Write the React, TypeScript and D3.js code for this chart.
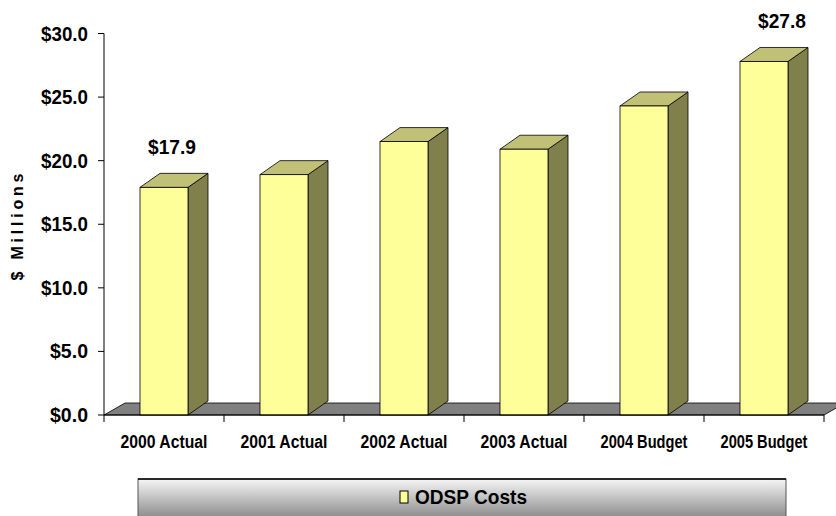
import React from 'react';
import * as d3 from 'd3';

const categories = ['2000 Actual', '2001 Actual', '2002 Actual', '2003 Actual', '2004 Budget', '2005 Budget'];
const costs = [17.9, 18.9, 21.5, 20.9, 24.3, 27.8];
const labelled = [0, 5]; // only first and last bar carry a value label
const yTicks = [0, 5, 10, 15, 20, 25, 30];

const W = 836;
const H = 516;
const left = 104;
const right = 824;
const top = 33.5;
const bottom = 415;
const depthX = 20; // 3d offset of the bars
const depthY = -14;

function App() {
  const x = d3.scaleBand().domain(categories).range([left, right]);
  const y = d3.scaleLinear().domain([0, 30]).range([bottom, top]);
  const barW = x.bandwidth() * 0.4;
  const fmt = (v: number) => '$' + d3.format('.1f')(v);

  const floor = d3.line()([
    [left, bottom],
    [right, bottom],
    [right + 21, bottom - 12],
    [left + 21, bottom - 12],
  ]) + 'Z';

  return (
    <svg width={W} height={H} style={{ position: 'absolute', left: 0, top: 0 }} fontFamily="Arial, 'Liberation Sans', sans-serif">
      <defs>
        <linearGradient id="legendGrad" x1="0" y1="0" x2="0" y2="1">
          <stop offset="0" stopColor="#f6f6f6" />
          <stop offset="1" stopColor="#7a7a7a" />
        </linearGradient>
      </defs>

      {/* floor */}
      <path d={floor} fill="#808080" stroke="#000" strokeWidth={0.8} />

      {/* bars */}
      {costs.map((v, i) => {
        const x0 = x(categories[i])! + (x.bandwidth() - barW) / 2;
        const x1 = x0 + barW;
        const yt = y(v);
        const side = d3.line()([[x1, bottom], [x1, yt], [x1 + depthX, yt + depthY], [x1 + depthX, bottom + depthY]]) + 'Z';
        const topFace = d3.line()([[x0, yt], [x1, yt], [x1 + depthX, yt + depthY], [x0 + depthX, yt + depthY]]) + 'Z';
        return (
          <g key={i}>
            <path d={side} fill="#80804c" stroke="#000" strokeWidth={0.8} />
            <path d={topFace} fill="#c0c076" stroke="#000" strokeWidth={0.8} />
            <rect x={x0} y={yt} width={barW} height={bottom - yt} fill="#ffff99" stroke="#000" strokeWidth={0.8} />
          </g>
        );
      })}

      {/* value labels */}
      {labelled.map((i) => (
        <text
          key={i}
          x={x(categories[i])! + x.bandwidth() / 2 + 8 + i * 2}
          y={y(costs[i]) + depthY - 19}
          textAnchor="middle"
          fontSize={21}
          fontWeight="bold"
          textLength={48}
          lengthAdjust="spacingAndGlyphs"
        >
          {fmt(costs[i])}
        </text>
      ))}

      {/* y axis */}
      <line x1={left} x2={left} y1={top} y2={bottom} stroke="#000" strokeWidth={1} />
      {yTicks.map((t) => (
        <g key={t}>
          <line x1={left - 6} x2={left} y1={y(t)} y2={y(t)} stroke="#000" />
          <text
            x={88}
            y={y(t) + 7}
            textAnchor="end"
            fontSize={20}
            fontWeight="bold"
            textLength={t >= 10 ? 47 : 38}
            lengthAdjust="spacingAndGlyphs"
          >
            {fmt(t)}
          </text>
        </g>
      ))}
      <text
        transform={`translate(23,227) rotate(-90)`}
        textAnchor="middle"
        fontSize={16}
        fontWeight="bold"
        textLength={107}
        lengthAdjust="spacing"
      >
        $ Millions
      </text>

      {/* x axis */}
      <line x1={left} x2={right} y1={bottom} y2={bottom} stroke="#000" />
      {categories.map((c, i) => (
        <line key={'t' + c} x1={left + i * x.step()} x2={left + i * x.step()} y1={bottom} y2={bottom + 7} stroke="#000" />
      ))}
      <line x1={right} x2={right} y1={bottom} y2={bottom + 7} stroke="#000" />
      {categories.map((c) => (
        <text key={c} x={x(c)! + x.bandwidth() / 2} y={448} textAnchor="middle" fontSize={18} fontWeight="bold" textLength={87} lengthAdjust="spacingAndGlyphs">
          {c}
        </text>
      ))}

      {/* legend */}
      <rect x={138} y={479} width={648} height={45} fill="url(#legendGrad)" stroke="#555" strokeWidth={1} />
      <line x1={138} x2={786} y1={479} y2={479} stroke="#000" strokeWidth={1.5} />
      <rect x={400} y={491} width={8} height={12} fill="#ffff99" stroke="#000" strokeWidth={1} />
      <text x={415} y={504} fontSize={20} fontWeight="bold" textLength={112} lengthAdjust="spacingAndGlyphs">
        ODSP Costs
      </text>
    </svg>
  );
}

export default App;
